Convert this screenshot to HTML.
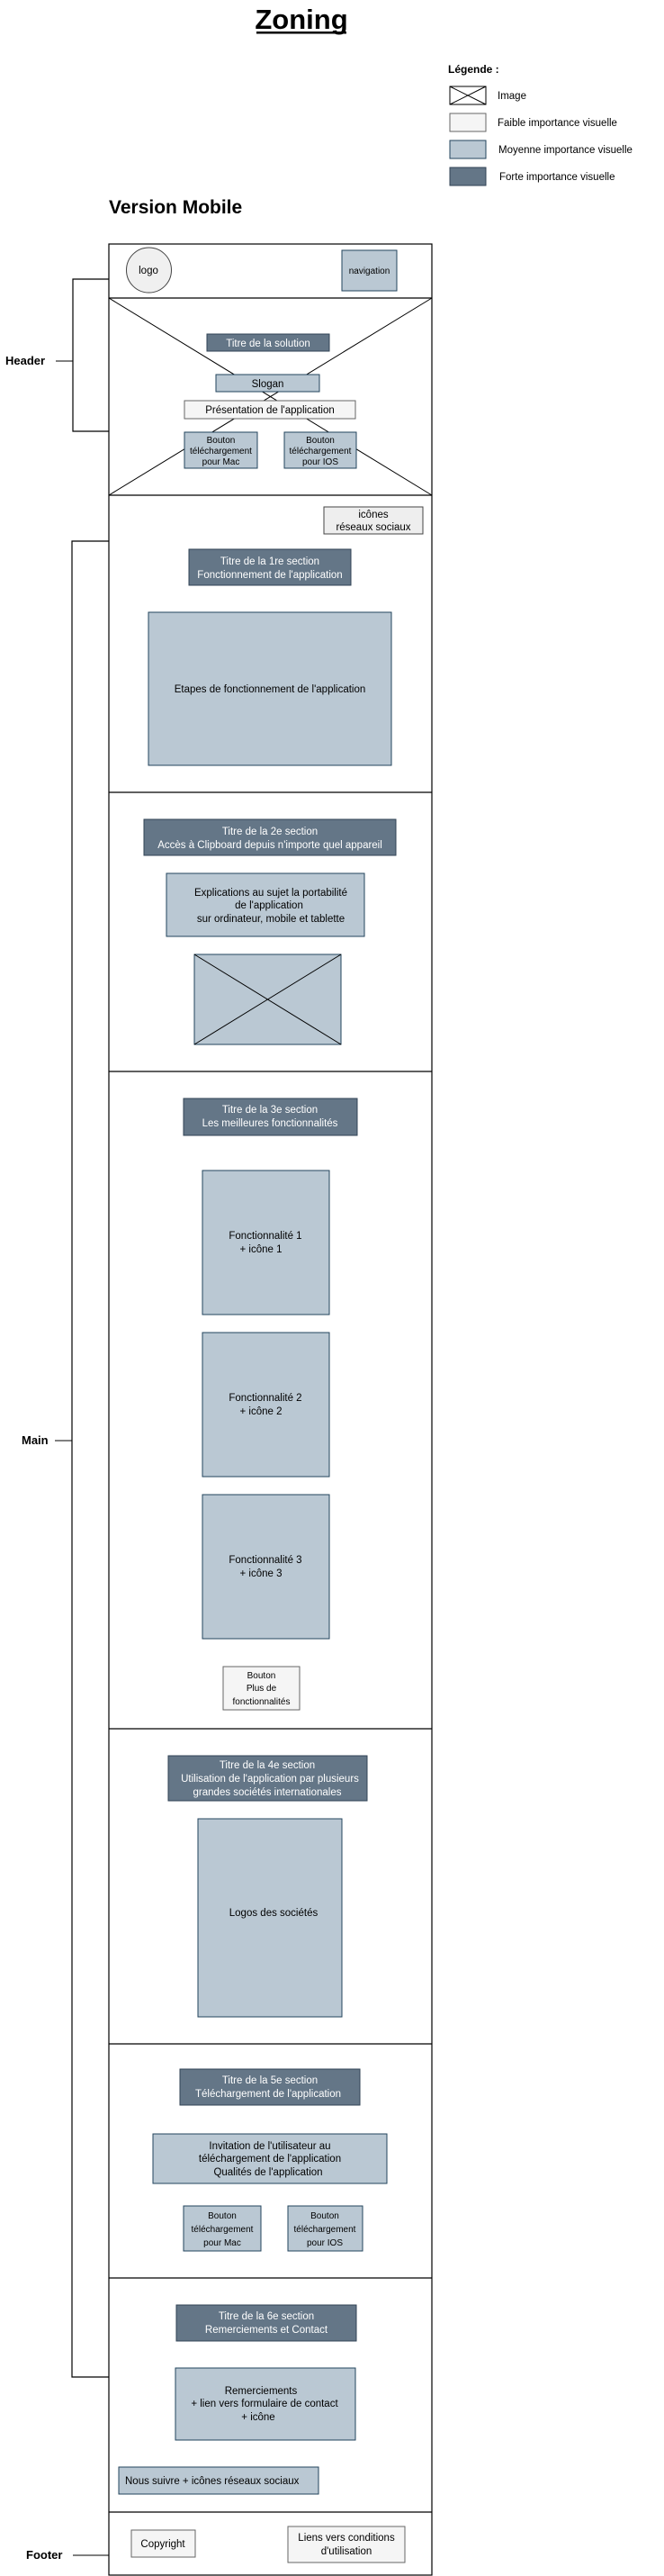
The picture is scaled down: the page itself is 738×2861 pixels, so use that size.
<!DOCTYPE html>
<html><head><meta charset="utf-8"><style>
html,body{margin:0;padding:0;background:#fff;}
svg{display:block;}
text{font-family:"Liberation Sans",Arial,sans-serif;}
</style></head><body>
<svg width="738" height="2861" viewBox="0 0 738 2861" xmlns="http://www.w3.org/2000/svg">
<defs>
<style>
.d{fill:#647687;stroke:#314354;stroke-width:1}
.m{fill:#bac8d3;stroke:#23445d;stroke-width:1}
.l{fill:#f5f5f5;stroke:#666;stroke-width:1}
.b{fill:none;stroke:#000;stroke-width:1.2}
.w{fill:#fff;font-size:11.5px;text-anchor:middle}
.k{fill:#000;font-size:11.5px;text-anchor:middle}
.s{fill:#000;font-size:10px;text-anchor:middle}
</style>
</defs>
<!-- title -->
<text x="335" y="32" font-size="31" font-weight="bold" text-anchor="middle">Zoning</text>
<rect x="285" y="35" width="100" height="2.5" fill="#000"/>
<!-- legend -->
<text x="498" y="81" font-size="12" font-weight="bold">Légende :</text>
<rect x="500" y="96" width="40" height="20" fill="#fff" stroke="#000"/>
<line x1="500" y1="96" x2="540" y2="116" stroke="#000"/><line x1="540" y1="96" x2="500" y2="116" stroke="#000"/>
<text x="553" y="110" font-size="11.5">Image</text>
<rect x="500" y="126" width="40" height="20" class="l"/>
<text x="553" y="140" font-size="11.5">Faible importance visuelle</text>
<rect x="500" y="156" width="40" height="20" class="m"/>
<text x="554" y="170" font-size="11.5">Moyenne importance visuelle</text>
<rect x="500" y="186" width="40" height="20" class="d"/>
<text x="555" y="200" font-size="11.5">Forte importance visuelle</text>
<text x="121" y="237" font-size="21" font-weight="bold">Version Mobile</text>

<!-- frame -->
<rect x="121" y="271" width="359" height="2589" class="b"/>
<line x1="121" y1="331" x2="480" y2="331" stroke="#000" stroke-width="1.2"/>
<line x1="121" y1="550" x2="480" y2="550" stroke="#000" stroke-width="1.2"/>
<line x1="121" y1="880" x2="480" y2="880" stroke="#000" stroke-width="1.2"/>
<line x1="121" y1="1190" x2="480" y2="1190" stroke="#000" stroke-width="1.2"/>
<line x1="121" y1="1920" x2="480" y2="1920" stroke="#000" stroke-width="1.2"/>
<line x1="121" y1="2270" x2="480" y2="2270" stroke="#000" stroke-width="1.2"/>
<line x1="121" y1="2530" x2="480" y2="2530" stroke="#000" stroke-width="1.2"/>
<line x1="121" y1="2790" x2="480" y2="2790" stroke="#000" stroke-width="1.2"/>

<!-- nav bar -->
<ellipse cx="165.5" cy="300" rx="25" ry="25" fill="#f0f0f0" stroke="#444"/>
<text x="165" y="304" class="k" font-size="12">logo</text>
<rect x="380" y="278" width="61" height="45" class="m"/>
<text x="410.5" y="304" class="s">navigation</text>

<!-- hero image X -->
<line x1="121" y1="331" x2="480" y2="550" stroke="#000"/>
<line x1="480" y1="331" x2="121" y2="550" stroke="#000"/>
<rect x="230" y="371" width="136" height="19" class="d"/>
<text x="298" y="385" class="w" font-size="12">Titre de la solution</text>
<rect x="240" y="416" width="115" height="19" class="m"/>
<text x="297.5" y="430" class="k" font-size="12">Slogan</text>
<rect x="205" y="445" width="190" height="20" class="l" stroke="#444"/>
<text x="300" y="459" class="k" font-size="12">Présentation de l'application</text>
<rect x="205" y="480" width="81" height="40" class="m"/>
<text x="245.5" y="492" class="s">Bouton</text><text x="245.5" y="504" class="s">téléchargement</text><text x="245.5" y="516" class="s">pour Mac</text>
<rect x="316" y="480" width="80" height="40" class="m"/>
<text x="356" y="492" class="s">Bouton</text><text x="356" y="504" class="s">téléchargement</text><text x="356" y="516" class="s">pour IOS</text>

<!-- section 1 -->
<rect x="360" y="563" width="110" height="30" fill="#eeeeee" stroke="#444"/>
<text x="415" y="575" class="k" font-size="11">icônes</text><text x="415" y="589" class="k" font-size="11">réseaux sociaux</text>
<rect x="210" y="610" width="180" height="40" class="d"/>
<text x="300" y="627" class="w">Titre de la 1re section</text><text x="300" y="642" class="w">Fonctionnement de l'application</text>
<rect x="165" y="680" width="270" height="170" class="m"/>
<text x="300" y="769" class="k">Etapes de fonctionnement de l'application</text>

<!-- section 2 -->
<rect x="160" y="910" width="280" height="40" class="d"/>
<text x="300" y="927" class="w">Titre de la 2e section</text><text x="300" y="942" class="w">Accès à Clipboard depuis n'importe quel appareil</text>
<rect x="185" y="970" width="220" height="70" class="m"/>
<text x="301" y="995" class="k">Explications au sujet la portabilité</text><text x="299" y="1009" class="k">de l'application</text><text x="301" y="1024" class="k">sur ordinateur, mobile et tablette</text>
<rect x="216" y="1060" width="163" height="100" class="m"/>
<line x1="216" y1="1060" x2="379" y2="1160" stroke="#000"/><line x1="379" y1="1060" x2="216" y2="1160" stroke="#000"/>

<!-- section 3 -->
<rect x="204" y="1220" width="193" height="41" class="d"/>
<text x="300" y="1236" class="w">Titre de la 3e section</text><text x="300" y="1251" class="w">Les meilleures fonctionnalités</text>
<rect x="225" y="1300" width="141" height="160" class="m"/>
<text x="295" y="1376" class="k">Fonctionnalité 1</text><text x="290" y="1391" class="k">+ icône 1</text>
<rect x="225" y="1480" width="141" height="160" class="m"/>
<text x="295" y="1556" class="k">Fonctionnalité 2</text><text x="290" y="1571" class="k">+ icône 2</text>
<rect x="225" y="1660" width="141" height="160" class="m"/>
<text x="295" y="1736" class="k">Fonctionnalité 3</text><text x="290" y="1751" class="k">+ icône 3</text>
<rect x="248" y="1851" width="85" height="48" class="l"/>
<text x="290.5" y="1864" class="s">Bouton</text><text x="290.5" y="1878" class="s">Plus de</text><text x="290.5" y="1893" class="s">fonctionnalités</text>

<!-- section 4 -->
<rect x="187" y="1950" width="221" height="50" class="d"/>
<text x="297" y="1964" class="w">Titre de la 4e section</text><text x="300" y="1979" class="w">Utilisation de l'application par plusieurs</text><text x="297" y="1994" class="w">grandes sociétés internationales</text>
<rect x="220" y="2020" width="160" height="220" class="m"/>
<text x="304" y="2128" class="k">Logos des sociétés</text>

<!-- section 5 -->
<rect x="200" y="2298" width="200" height="40" class="d"/>
<text x="300" y="2314" class="w">Titre de la 5e section</text><text x="298" y="2329" class="w">Téléchargement de l'application</text>
<rect x="170" y="2370" width="260" height="55" class="m"/>
<text x="300" y="2387" class="k">Invitation de l'utilisateur au</text><text x="300" y="2401" class="k">téléchargement de l'application</text><text x="298" y="2416" class="k">Qualités de l'application</text>
<rect x="204" y="2450" width="86" height="50" class="m"/>
<text x="247" y="2464" class="s">Bouton</text><text x="247" y="2479" class="s">téléchargement</text><text x="247" y="2494" class="s">pour Mac</text>
<rect x="320" y="2450" width="83" height="50" class="m"/>
<text x="361" y="2464" class="s">Bouton</text><text x="361" y="2479" class="s">téléchargement</text><text x="361" y="2494" class="s">pour IOS</text>

<!-- section 6 -->
<rect x="196" y="2560" width="200" height="40" class="d"/>
<text x="296" y="2576" class="w">Titre de la 6e section</text><text x="296" y="2591" class="w">Remerciements et Contact</text>
<rect x="195" y="2630" width="200" height="80" class="m"/>
<text x="290" y="2659" class="k">Remerciements</text><text x="294" y="2673" class="k">+ lien vers formulaire de contact</text><text x="287" y="2688" class="k">+ icône</text>
<rect x="132" y="2740" width="222" height="30" class="m"/>
<text x="139" y="2759" font-size="11.5">Nous suivre + icônes réseaux sociaux</text>

<!-- footer -->
<rect x="146" y="2810" width="71" height="30" class="l"/>
<text x="181" y="2829" class="k">Copyright</text>
<rect x="320" y="2806" width="130" height="40" class="l"/>
<text x="385" y="2822" class="k">Liens vers conditions</text><text x="385" y="2837" class="k">d'utilisation</text>

<!-- brackets -->
<polyline points="121,310 81,310 81,479 121,479" fill="none" stroke="#000" stroke-width="1.2"/>
<line x1="62" y1="401" x2="81" y2="401" stroke="#000"/>
<text x="6" y="405" font-size="13" font-weight="bold">Header</text>
<polyline points="121,601 80,601 80,2640 121,2640" fill="none" stroke="#000" stroke-width="1.2"/>
<line x1="61" y1="1600" x2="80" y2="1600" stroke="#000"/>
<text x="24" y="1604" font-size="13" font-weight="bold">Main</text>
<line x1="81" y1="2838" x2="121" y2="2838" stroke="#000"/>
<text x="29" y="2842" font-size="13" font-weight="bold">Footer</text>
</svg>
</body></html>
